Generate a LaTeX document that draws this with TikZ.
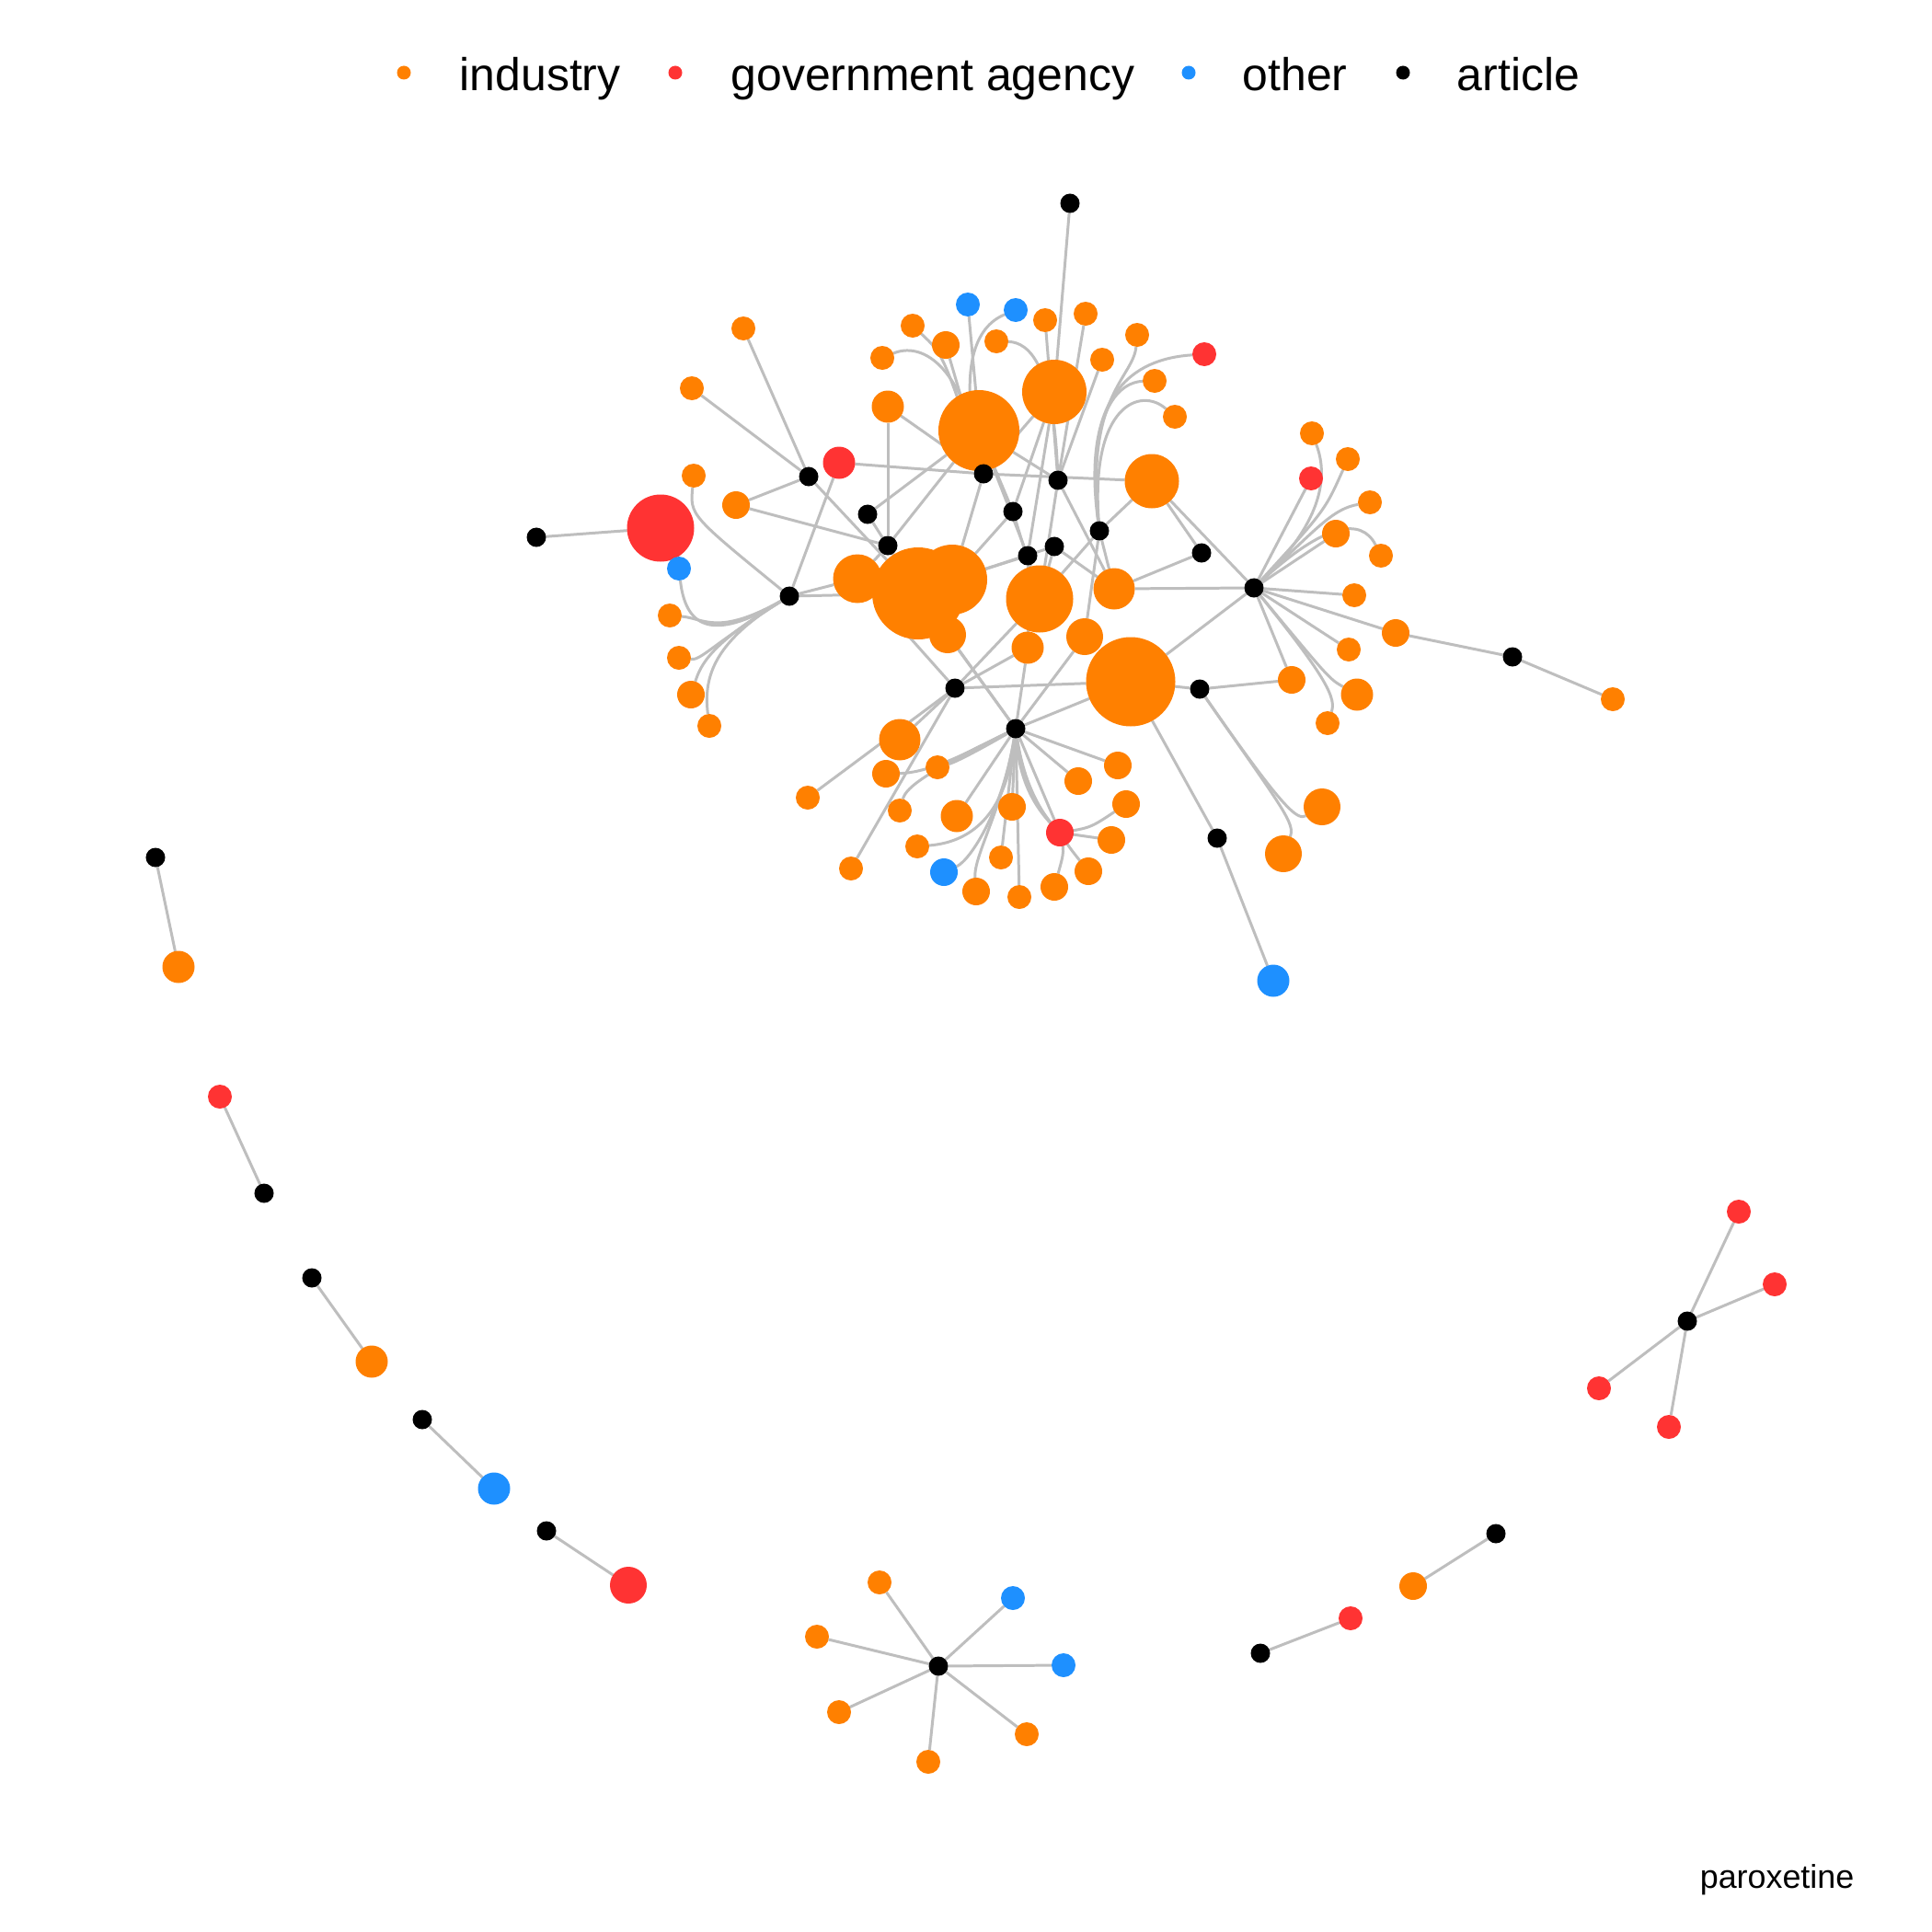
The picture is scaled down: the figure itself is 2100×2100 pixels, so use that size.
\documentclass[tikz,border=0pt]{standalone}
\usepackage{fontspec}
\setmainfont{Liberation Sans}
\definecolor{indc}{RGB}{255,128,0}
\definecolor{govc}{RGB}{255,51,51}
\definecolor{othc}{RGB}{30,144,255}
\definecolor{edgec}{RGB}{190,190,190}
\pgfdeclarelayer{bg}
\pgfsetlayers{bg,main}
\tikzset{
  nd/.style={circle,inner sep=0pt,outer sep=0pt,draw=none},
  ind/.style={nd,fill=indc,minimum size=#1*0.01cm},
  gov/.style={nd,fill=govc,minimum size=#1*0.01cm},
  oth/.style={nd,fill=othc,minimum size=#1*0.01cm},
  art/.style={nd,fill=black,minimum size=0.21cm},
  ed/.style={draw=edgec,line width=0.85pt},
  lgtext/.style={anchor=base west,inner sep=0pt,font=\fontsize{14.2}{17}\selectfont}
}
\begin{document}
\begin{tikzpicture}[x=0.01cm,y=-0.01cm]
\useasboundingbox (0,0) rectangle (2100,2100);
\begin{pgfonlayer}{bg}
\fill[white] (0,0) rectangle (2100,2100);
\end{pgfonlayer}
% legend
\node[ind=15] (lg1) at (439,79) {};
\node[lgtext] (lt1) at (499,99) {industry};
\node[gov=15] (lg2) at (734,79) {};
\node[lgtext] (lt2) at (794,99) {government agency};
\node[oth=15] (lg3) at (1292,79) {};
\node[lgtext] (lt3) at (1350,99) {other};
\node[art,minimum size=0.15cm] (lg4) at (1525,79) {};
\node[lgtext] (lt4) at (1583,99) {article};
\node[anchor=base east,inner sep=0pt,font=\fontsize{10.2}{12}\selectfont] (cap) at (2016,2052) {paroxetine};
% non-article nodes, main cluster
\node[oth=26] (b1) at (1052,331) {};
\node[oth=26] (b2) at (1104,337) {};
\node[ind=26] (o1) at (1136,348) {};
\node[ind=26] (o2) at (1180,341) {};
\node[ind=26] (o3) at (992,354) {};
\node[ind=30] (o4) at (1028,375) {};
\node[ind=26] (o5) at (1083,371) {};
\node[ind=26] (o6) at (1236,364) {};
\node[gov=26] (r1) at (1309,385) {};
\node[ind=26] (o7) at (1198,391) {};
\node[ind=26] (o8) at (1255,414) {};
\node[ind=26] (o9) at (1277,453) {};
\node[ind=26] (o10) at (959,389) {};
\node[ind=26] (o11) at (808,357) {};
\node[ind=26] (o12) at (752,422) {};
\node[ind=35] (o13) at (965,442) {};
\node[ind=88] (big1) at (1064,468) {};
\node[ind=70] (big2) at (1146,426) {};
\node[gov=35] (r2) at (912,503) {};
\node[ind=26] (o14) at (754,517) {};
\node[ind=30] (o15) at (800,549) {};
\node[gov=73] (br) at (718,574) {};
\node[oth=26] (b3) at (738,618) {};
\node[ind=53] (o16) at (932,629) {};
\node[ind=100] (hA) at (998,645) {};
\node[ind=76] (hB) at (1035,630) {};
\node[ind=40] (o17) at (1030,690) {};
\node[ind=73] (o18) at (1130,651) {};
\node[ind=45] (o19) at (1211,640) {};
\node[ind=40] (o20) at (1179,692) {};
\node[ind=35] (o21) at (1117,704) {};
\node[ind=97] (h3) at (1229,741) {};
\node[ind=59] (o22) at (1252,523) {};
\node[ind=30] (o23) at (1404,739) {};
\node[ind=26] (o24) at (1443,786) {};
\node[ind=40] (o25) at (1437,877) {};
\node[ind=40] (o26) at (1395,928) {};
\node[oth=35] (b4) at (1384,1066) {};
\node[ind=26] (o27) at (728,669) {};
\node[ind=26] (o28) at (738,715) {};
\node[ind=30] (o29) at (751,755) {};
\node[ind=26] (o30) at (771,789) {};
\node[ind=45] (o31) at (978,804) {};
\node[ind=30] (o32) at (963,841) {};
\node[ind=26] (o33) at (1019,834) {};
\node[ind=26] (o34) at (878,867) {};
\node[ind=26] (o35) at (978,881) {};
\node[ind=35] (o36) at (1040,887) {};
\node[ind=30] (o37) at (1100,877) {};
\node[ind=30] (o38) at (1172,849) {};
\node[ind=30] (o39) at (1215,832) {};
\node[ind=30] (o40) at (1224,874) {};
\node[gov=30] (r3) at (1152,905) {};
\node[ind=30] (o41) at (1208,913) {};
\node[ind=26] (o42) at (997,920) {};
\node[ind=26] (o43) at (1088,932) {};
\node[oth=30] (b5) at (1026,948) {};
\node[ind=30] (o44) at (1183,947) {};
\node[ind=26] (o45) at (925,944) {};
\node[ind=30] (o46) at (1061,969) {};
\node[ind=26] (o47) at (1108,975) {};
\node[ind=30] (o48) at (1146,964) {};
\node[ind=26] (o49) at (1426,471) {};
\node[ind=26] (o50) at (1465,499) {};
\node[gov=26] (r4) at (1425,520) {};
\node[ind=26] (o51) at (1489,546) {};
\node[ind=30] (o52) at (1452,580) {};
\node[ind=26] (o53) at (1501,604) {};
\node[ind=26] (o54) at (1472,647) {};
\node[ind=30] (o55) at (1517,688) {};
\node[ind=26] (o56) at (1753,760) {};
\node[ind=26] (o57) at (1466,706) {};
\node[ind=35] (o58) at (1475,755) {};
% articles main cluster
\node[art] (a1) at (1163,221) {};
\node[art] (a2) at (583,584) {};
\node[art] (a3) at (879,518) {};
\node[art] (a4) at (1069,515) {};
\node[art] (a5) at (943,559) {};
\node[art] (a6) at (1150,522) {};
\node[art] (a7) at (965,593) {};
\node[art] (a8) at (1101,556) {};
\node[art] (a9) at (1195,577) {};
\node[art] (a10) at (1146,594) {};
\node[art] (a11) at (1117,604) {};
\node[art] (a12) at (858,648) {};
\node[art] (a13) at (1306,601) {};
\node[art] (a14) at (1363,639) {};
\node[art] (a15) at (1038,748) {};
\node[art] (a16) at (1104,792) {};
\node[art] (a17) at (1304,749) {};
\node[art] (a18) at (1323,911) {};
\node[art] (a19) at (1644,714) {};
% small components
\node[art] (k1) at (169,932) {};
\node[ind=35] (p1) at (194,1051) {};
\node[art] (k2) at (287,1297) {};
\node[gov=26] (q2) at (239,1192) {};
\node[art] (k3) at (339,1389) {};
\node[ind=35] (p3) at (404,1480) {};
\node[art] (k4) at (459,1543) {};
\node[oth=35] (q4) at (537,1618) {};
\node[art] (k5) at (594,1664) {};
\node[gov=40] (q5) at (683,1723) {};
\node[art] (k6) at (1020,1811) {};
\node[ind=26] (s1) at (956,1720) {};
\node[oth=26] (s2) at (1101,1737) {};
\node[ind=26] (s3) at (888,1779) {};
\node[oth=26] (s4) at (1156,1810) {};
\node[ind=26] (s5) at (912,1861) {};
\node[ind=26] (s6) at (1116,1885) {};
\node[ind=26] (s7) at (1009,1915) {};
\node[art] (k7) at (1370,1797) {};
\node[gov=26] (q7) at (1468,1759) {};
\node[art] (k8) at (1626,1667) {};
\node[ind=30] (p8) at (1536,1724) {};
\node[art] (k9) at (1834,1436) {};
\node[gov=26] (t1) at (1890,1317) {};
\node[gov=26] (t2) at (1929,1396) {};
\node[gov=26] (t3) at (1738,1509) {};
\node[gov=26] (t4) at (1814,1551) {};
\begin{pgfonlayer}{bg}
% left part
\draw[ed] (a2) -- (br);
\draw[ed] (a3) -- (o11);
\draw[ed] (a3) -- (o12);
\draw[ed] (a3) -- (o15);
\draw[ed] (a3) -- (hA);
\draw[ed] (o15) -- (a7);
\draw[ed] (o13) -- (a7);
\draw[ed] (o13) -- (a4);
\draw[ed] (r2) -- (a4);
\draw[ed] (r2) -- (a12);
\draw[ed] (a5) -- (big1);
\draw[ed] (a5) -- (hA);
\draw[ed] (a7) -- (hA);
\draw[ed] (a7) -- (o16);
\draw[ed] (a7) -- (big1);
\draw[ed] (a12) -- (o16);
\draw[ed] (a12) -- (hA);
\draw[ed] (o14) .. controls (750,560) .. (a12);
\draw[ed] (b3) .. controls (745,680) and (772,700) .. (a12);
\draw[ed] (o27) .. controls (765,672) and (780,692) .. (a12);
\draw[ed] (o28) .. controls (762,718) and (775,700) .. (a12);
\draw[ed] (o29) .. controls (762,722) and (772,700) .. (a12);
\draw[ed] (o30) .. controls (765,740) and (772,700) .. (a12);
% top
\draw[ed] (b1) -- (a4);
\draw[ed] (b2) .. controls (1060,355) and (1040,400) .. (a4);
\draw[ed] (o3) .. controls (1025,385) .. (a4);
\draw[ed] (o4) -- (a4);
\draw[ed] (o10) .. controls (1000,372) and (1045,392) .. (a4);
\draw[ed] (big1) -- (a4);
\draw[ed] (big2) -- (a4);
\draw[ed] (hB) -- (a4);
\draw[ed] (o22) -- (a4);
\draw[ed] (o1) -- (a6);
\draw[ed] (o2) -- (a6);
\draw[ed] (o7) -- (a6);
\draw[ed] (o5) .. controls (1120,372) and (1145,400) .. (a6);
\draw[ed] (big1) -- (a6);
\draw[ed] (o18) -- (a6);
\draw[ed] (o19) -- (a6);
\draw[ed] (a1) -- (big2);
\draw[ed] (big2) -- (a8);
\draw[ed] (big2) -- (a11);
\draw[ed] (o6) .. controls (1232,410) and (1180,430) .. (a9);
\draw[ed] (r1) .. controls (1230,390) and (1175,430) .. (a9);
\draw[ed] (o8) .. controls (1220,415) and (1180,440) .. (a9);
\draw[ed] (o9) .. controls (1240,420) and (1185,440) .. (a9);
\draw[ed] (o22) -- (a9);
\draw[ed] (o19) -- (a9);
\draw[ed] (o20) -- (a9);
\draw[ed] (o18) -- (a9);
\draw[ed] (big1) -- (a8);
\draw[ed] (hB) -- (a8);
\draw[ed] (o18) -- (a8);
\draw[ed] (o19) -- (a10);
\draw[ed] (o18) -- (a10);
\draw[ed] (hB) -- (a10);
\draw[ed] (hB) -- (a11);
\draw[ed] (o18) -- (a11);
\draw[ed] (o21) -- (a11);
\draw[ed] (big1) -- (a11);
\draw[ed] (o22) -- (a13);
\draw[ed] (o19) -- (a13);
% right hub
\draw[ed] (a14) -- (o22);
\draw[ed] (a14) -- (o19);
\draw[ed] (a14) -- (h3);
\draw[ed] (a14) -- (o23);
\draw[ed] (a14) .. controls (1445,740) and (1452,760) .. (o24);
\draw[ed] (a14) .. controls (1445,738) .. (o58);
\draw[ed] (a14) -- (o57);
\draw[ed] (a14) -- (o55);
\draw[ed] (a14) -- (o54);
\draw[ed] (a14) .. controls (1440,568) and (1480,562) .. (o53);
\draw[ed] (a14) -- (o52);
\draw[ed] (a14) .. controls (1435,570) and (1450,553) .. (o51);
\draw[ed] (a14) .. controls (1440,555) .. (o50);
\draw[ed] (a14) .. controls (1435,570) and (1445,520) .. (o49);
\draw[ed] (a14) -- (r4);
% lower hubs
\draw[ed] (a15) -- (o16);
\draw[ed] (a15) -- (o21);
\draw[ed] (a15) -- (h3);
\draw[ed] (a15) -- (o31);
\draw[ed] (a15) -- (o34);
\draw[ed] (a15) -- (o45);
\draw[ed] (a15) -- (o18);
\draw[ed] (a16) -- (o17);
\draw[ed] (a16) -- (hA);
\draw[ed] (a16) -- (o21);
\draw[ed] (a16) -- (o20);
\draw[ed] (a16) -- (h3);
\draw[ed] (a16) -- (o39);
\draw[ed] (a16) -- (o38);
\draw[ed] (a16) -- (r3);
\draw[ed] (a16) .. controls (1108,850) and (1125,880) .. (r3.center) .. controls (1185,900) .. (o40);
\draw[ed] (a16) .. controls (1110,850) and (1128,882) .. (r3.center) -- (o41);
\draw[ed] (a16) .. controls (1112,852) and (1130,884) .. (r3.center) .. controls (1163,922) .. (o44);
\draw[ed] (a16) .. controls (1113,852) and (1132,886) .. (r3.center) .. controls (1157,925) .. (o48);
\draw[ed] (a16) -- (o37);
\draw[ed] (a16) -- (o47);
\draw[ed] (a16) -- (o36);
\draw[ed] (a16) -- (o33);
\draw[ed] (a16) .. controls (1070,812) and (1040,828) .. (o33);
\draw[ed] (a16) .. controls (1040,825) and (1005,840) .. (o32);
\draw[ed] (a16) .. controls (1010,838) and (985,855) .. (o35);
\draw[ed] (a16) .. controls (1095,880) and (1060,915) .. (o42);
\draw[ed] (a16) .. controls (1090,880) and (1055,935) .. (b5);
\draw[ed] (a16) .. controls (1090,880) and (1058,930) .. (o46);
\draw[ed] (a16) -- (o43);
\draw[ed] (a17) -- (h3);
\draw[ed] (a17) -- (o23);
\draw[ed] (a17) .. controls (1395,880) and (1410,892) .. (o25);
\draw[ed] (a17) .. controls (1395,880) and (1408,895) .. (o26);
\draw[ed] (a18) -- (h3);
\draw[ed] (a18) -- (b4);
\draw[ed] (a19) -- (o55);
\draw[ed] (a19) -- (o56);
% small components
\draw[ed] (k1) -- (p1);
\draw[ed] (k2) -- (q2);
\draw[ed] (k3) -- (p3);
\draw[ed] (k4) -- (q4);
\draw[ed] (k5) -- (q5);
\foreach \s in {s1,s2,s3,s4,s5,s6,s7} {\draw[ed] (k6) -- (\s);}
\draw[ed] (k7) -- (q7);
\draw[ed] (k8) -- (p8);
\foreach \s in {t1,t2,t3,t4} {\draw[ed] (k9) -- (\s);}
\end{pgfonlayer}
\end{tikzpicture}
\end{document}
